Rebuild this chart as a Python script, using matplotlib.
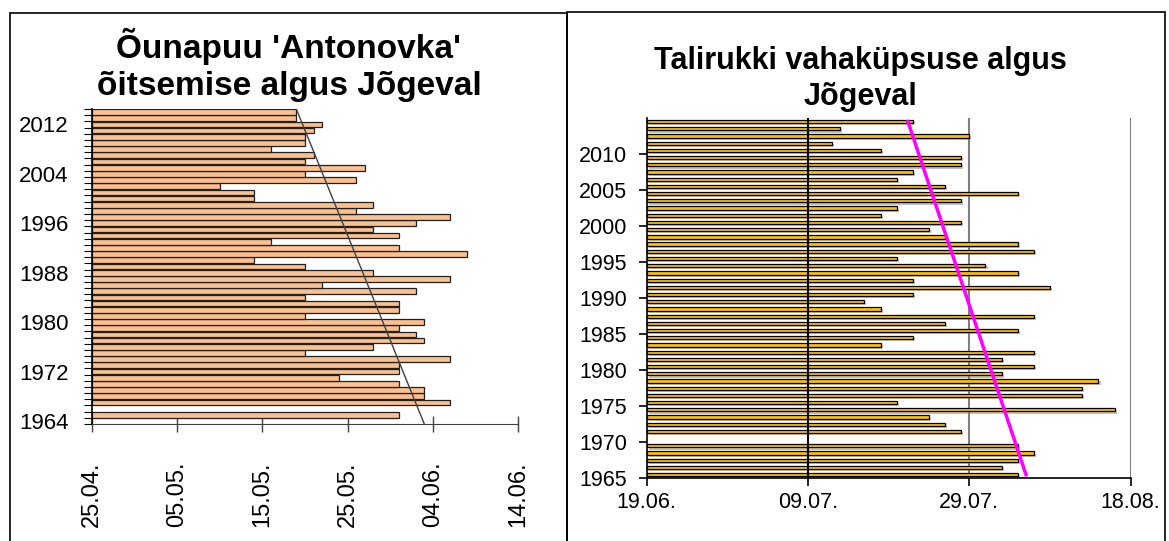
import numpy as np
import pandas as pd
import matplotlib
matplotlib.use('Agg')
import matplotlib.pyplot as plt
import matplotlib.dates as mdates
import matplotlib.patheffects as pe
from matplotlib.patches import Rectangle

plt.rcParams['font.family'] = ['Liberation Sans', 'DejaVu Sans']

# Õunapuu 'Antonovka' õitsemise algus (1964 ... 2014), None = puudub
apple_years = np.arange(1964, 2015)
apple_dates = [None, '31.05', None, '06.06', '03.06', '03.06', '31.05', '24.05',
               '31.05', '31.05', '06.06', '20.05', '28.05', '03.06', '02.06', '31.05',
               '03.06', '20.05', '31.05', '31.05', '20.05', '02.06', '22.05', '06.06',
               '28.05', '20.05', '14.05', '08.06', '31.05', '16.05', '31.05', '28.05',
               '02.06', '06.06', '26.05', '28.05', '14.05', '14.05', '10.05', '26.05',
               '20.05', '27.05', '20.05', '21.05', '16.05', '20.05', '20.05', '21.05',
               '22.05', '19.05', '19.05']
apple_ticks = ['25.04', '05.05', '15.05', '25.05', '04.06', '14.06']
apple_labels = [1964, 1972, 1980, 1988, 1996, 2004, 2012]

# Talirukki vahaküpsuse algus (1965 ... 2014)
rye_years = np.arange(1965, 2015)
rye_dates = ['04.08', '02.08', '04.08', '06.08', '04.08', None, '28.07', '26.07',
             '24.07', '16.08', '20.07', '12.08', '12.08', '14.08', '02.08', '06.08',
             '02.08', '06.08', '18.07', '22.07', '04.08', '26.07', '06.08', '18.07',
             '16.07', '22.07', '08.08', '22.07', '04.08', '31.07', '20.07', '06.08',
             '04.08', '26.07', '24.07', '28.07', '18.07', '20.07', '28.07', '04.08',
             '26.07', '20.07', '22.07', '28.07', '28.07', '18.07', '12.07', '29.07',
             '13.07', '22.07']
rye_ticks = ['19.06', '09.07', '29.07', '18.08']
rye_labels = [1965, 1970, 1975, 1980, 1985, 1990, 1995, 2000, 2005, 2010]


def day_nums(dates):
    return np.array([mdates.date2num(pd.to_datetime(d + '.2001', format='%d.%m.%Y'))
                     if d else np.nan for d in dates])


a = day_nums(apple_dates)
a_ticks = day_nums(apple_ticks)
r = day_nums(rye_dates)
r_ticks = day_nums(rye_ticks)

W, H = 1169, 541
fig = plt.figure(figsize=(W / 100, H / 100), dpi=100)

# raamid
fig.add_artist(Rectangle((10 / W, -0.01), (567 - 10) / W, 1.01 - 13 / H,
                         transform=fig.transFigure, fill=False, ec='black', lw=1.2))
fig.add_artist(Rectangle((567 / W, -0.01), (1165 - 567) / W, 1.01 - 12 / H,
                         transform=fig.transFigure, fill=False, ec='black', lw=1.2))

# vasak: õunapuu
ax1 = fig.add_axes([92 / W, 1 - 424 / H, (518 - 92) / W, (424 - 109) / H])
ax1.barh(apple_years, a - a_ticks[0], left=a_ticks[0], height=0.92,
         color='#FAC090', edgecolor='#202020', lw=0.9, zorder=2)
ax1.set_ylim(1963.5, 2014.5)
ax1.set_xlim(a_ticks[0], a_ticks[-1])
ok = ~np.isnan(a)
k1 = np.polyfit(apple_years[ok], a[ok], 1)
yy = np.array(ax1.get_ylim())
ax1.plot(np.polyval(k1, yy), yy, color='#404040', lw=1, zorder=3)

ax1.set_xticks(a_ticks)
ax1.xaxis.set_major_formatter(mdates.DateFormatter('%d.%m.'))
ax1.tick_params(axis='x', direction='inout', length=12, width=1, color='#404040',
                labelsize=17, labelrotation=90, pad=21)
ax1.set_yticks(apple_labels)
ax1.set_yticks(np.arange(1963.5, 2015, 1), minor=True)
ax1.tick_params(axis='y', which='major', length=0, labelsize=16, pad=17)
ax1.tick_params(axis='y', which='minor', length=6, width=0.8, direction='out')
for s in ['top', 'right']:
    ax1.spines[s].set_visible(False)
ax1.spines['left'].set_linewidth(1.2)
ax1.spines['bottom'].set_color('#404040')

fig.text(289 / W, 1 - 65 / H, "Õunapuu 'Antonovka'\nõitsemise algus Jõgeval",
         ha='center', va='center', fontsize=24, fontweight='bold', linespacing=1.24)

# parem: talirukis
ax2 = fig.add_axes([646.5 / W, 1 - 478.3 / H, (1130.7 - 646.5) / W, (478.3 - 118) / H])
shadow = [pe.withSimplePatchShadow(offset=(1.5, -1.5), shadow_rgbFace='#808080', alpha=0.5)]
ax2.barh(rye_years + 0.5, r - r_ticks[0], left=r_ticks[0], height=0.45,
         color='#FFC000', edgecolor='black', lw=0.9, zorder=2, path_effects=shadow)
ax2.set_ylim(1965, 2015)
ax2.set_xlim(r_ticks[0], r_ticks[-1])
ax2.axvline(r_ticks[1], color='black', lw=1.5, zorder=3)
for t in r_ticks[2:]:
    ax2.axvline(t, color='#7F7F7F', lw=1.5, zorder=1)
ok = ~np.isnan(r)
k2 = np.polyfit(rye_years[ok] + 0.5, r[ok], 1)
yy = np.array([rye_years[-1] + 0.5, rye_years[0] + 0.5])
ax2.plot(np.polyval(k2, yy), yy, color='#FF00FF', lw=2.5, zorder=4)

ax2.set_xticks(r_ticks)
ax2.xaxis.set_major_formatter(mdates.DateFormatter('%d.%m.'))
ax2.tick_params(axis='x', direction='out', length=6, width=1.2, labelsize=15.5, pad=4)
ax2.set_yticks(rye_labels)
ax2.tick_params(axis='y', direction='out', length=6, width=1.2, labelsize=15.5, pad=8)
for s in ['top', 'right']:
    ax2.spines[s].set_visible(False)
ax2.spines['left'].set_linewidth(1.2)
ax2.spines['bottom'].set_linewidth(1.2)

fig.text(860 / W, 1 - 79 / H, "Talirukki vahaküpsuse algus\nJõgeval",
         ha='center', va='center', fontsize=22, fontweight='bold', linespacing=1.25)

fig.savefig('out.png', dpi=100)
